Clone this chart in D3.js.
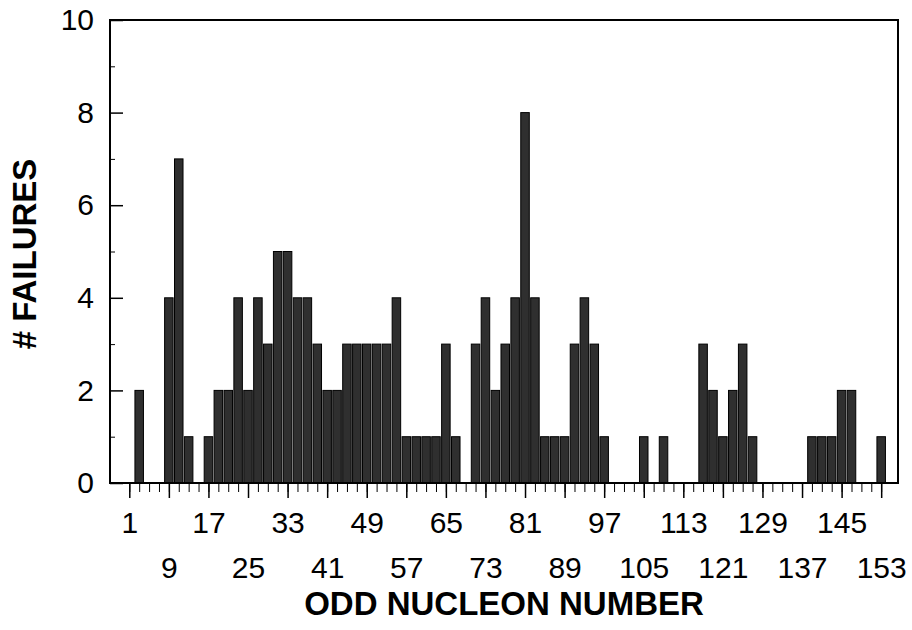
<!DOCTYPE html>
<html>
<head>
<meta charset="utf-8">
<script src="https://cdn.jsdelivr.net/npm/d3@7"></script>
<style>
  body { margin: 0; background: #fff; }
  svg { display: block; font-family: "Liberation Sans", Arial, sans-serif; }
  .axis text { font-size: 30px; fill: #000; }
  .title { font-size: 33px; font-weight: bold; fill: #000; }
</style>
</head>
<body>
<div id="chart"></div>
<script>
// odd nucleon numbers 1..153 and failure counts
var nucleons = d3.range(1, 154, 2);
var failures = [
  0, 2, 0, 0, 4, 7, 1, 0, 1, 2,      // 1 .. 19
  2, 4, 2, 4, 3, 5, 5, 4, 4, 3,      // 21 .. 39
  2, 2, 3, 3, 3, 3, 3, 4, 1, 1,      // 41 .. 59
  1, 1, 3, 1, 0, 3, 4, 2, 3, 4,      // 61 .. 79
  8, 4, 1, 1, 1, 3, 4, 3, 1, 0,      // 81 .. 99
  0, 0, 1, 0, 1, 0, 0, 0, 3, 2,      // 101 .. 119
  1, 2, 3, 1, 0, 0, 0, 0, 0, 1,      // 121 .. 139
  1, 1, 2, 2, 0, 0, 1                // 141 .. 153
];
var majorTicks = d3.range(1, 154, 8);
var yMajor = [0, 2, 4, 6, 8, 10];
var yMinor = [1, 3, 5, 7, 9];

var width = 912, height = 630;
var plot = {left: 110, right: 898, top: 20, bottom: 483};

var svg = d3.select("#chart").append("svg")
    .attr("width", width)
    .attr("height", height);

var x = d3.scaleLinear()
    .domain([-2.9, 156.4])
    .range([plot.left, plot.right]);

var y = d3.scaleLinear()
    .domain([0, 10])
    .range([plot.bottom, plot.top]);

var step = x(3) - x(1);
var barWidth = step * 0.86;

var data = nucleons.map(function(n, i) { return {n: n, v: failures[i]}; });

svg.selectAll(".bar")
    .data(data.filter(function(d) { return d.v > 0; }))
  .enter().append("rect")
    .attr("class", "bar")
    .attr("x", function(d) { return x(d.n) - barWidth / 2; })
    .attr("width", barWidth)
    .attr("y", function(d) { return y(d.v); })
    .attr("height", function(d) { return y(0) - y(d.v); })
    .style("fill", "#2f2f2f")
    .style("stroke", "#000")
    .style("stroke-width", 1);

// frame
svg.append("rect")
    .attr("x", plot.left)
    .attr("y", plot.top)
    .attr("width", plot.right - plot.left)
    .attr("height", plot.bottom - plot.top)
    .style("fill", "none")
    .style("stroke", "#000")
    .style("stroke-width", 2);

// x axis: minor ticks every odd number, long ticks every 8
svg.append("g")
    .attr("class", "x axis minor")
    .attr("transform", "translate(0," + plot.bottom + ")")
    .call(d3.axisBottom(x).tickValues(nucleons).tickSize(9).tickFormat(""))
    .call(function(g) { g.select(".domain").remove(); });

var xAxis = svg.append("g")
    .attr("class", "x axis")
    .attr("transform", "translate(0," + plot.bottom + ")")
    .call(d3.axisBottom(x).tickValues(majorTicks).tickSize(15).tickPadding(15))
    .call(function(g) { g.select(".domain").remove(); });

xAxis.selectAll(".tick line").style("stroke-width", 1.5);
xAxis.selectAll(".tick text")
    .attr("y", function(d, i) { return i % 2 ? 74 : 29; });

// y axis: ticks point inward
svg.append("g")
    .attr("class", "y axis minor")
    .attr("transform", "translate(" + plot.left + ",0)")
    .call(d3.axisLeft(y).tickValues(yMinor).tickSize(-5).tickFormat(""))
    .call(function(g) { g.select(".domain").remove(); });

svg.append("g")
    .attr("class", "y axis")
    .attr("transform", "translate(" + plot.left + ",0)")
    .call(d3.axisLeft(y).tickValues(yMajor).tickSize(-13).tickPadding(16))
    .call(function(g) { g.select(".domain").remove(); })
    .selectAll(".tick line").style("stroke-width", 1.5);

svg.selectAll(".axis .tick line").style("stroke", "#000");

svg.append("text")
    .attr("class", "title")
    .attr("x", (plot.left + plot.right) / 2)
    .attr("y", 615)
    .style("text-anchor", "middle")
    .text("ODD NUCLEON NUMBER");

svg.append("text")
    .attr("class", "title")
    .attr("transform", "translate(36," + 254 + ") rotate(-90)")
    .style("text-anchor", "middle")
    .text("# FAILURES");
</script>
</body>
</html>
